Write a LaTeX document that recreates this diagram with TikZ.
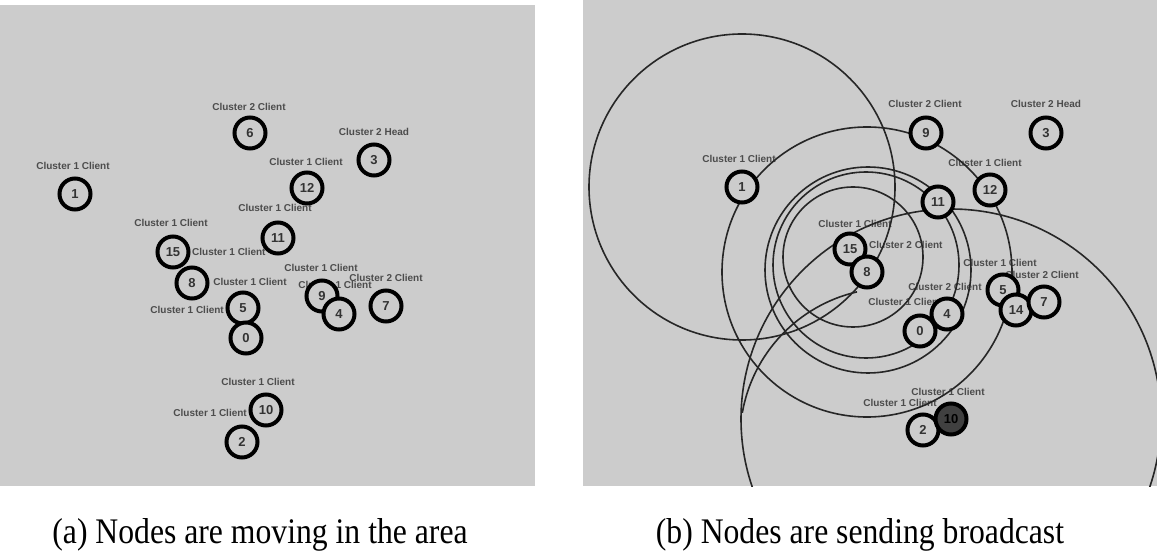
\documentclass[tikz,border=0pt]{standalone}
\usepackage{fontspec}
\setmainfont{Liberation Serif}
\setsansfont{Liberation Sans}
\begin{document}
\begin{tikzpicture}[x=1pt,y=1pt]
\tikzset{
 panel/.style={fill=black!20, draw=none},
 mnode/.style={circle, draw=black, line width=4pt, fill=black!20, minimum size=31pt, inner sep=0pt,
   font=\sffamily\bfseries\fontsize{13}{13}\selectfont, text=black!80},
 darknode/.style={mnode, fill=black!75, text=black},
 lbl/.style={font=\sffamily\bfseries\fontsize{10}{10}\selectfont, text=black!70, inner sep=0pt},
 bcast/.style={draw=black!85, line width=1.6pt},
 captext/.style={font=\fontsize{36}{40}\selectfont, anchor=base, inner sep=0pt}
}
\useasboundingbox (0,0) rectangle (1157,552);
% panels
\fill[panel] (0,66) rectangle (535,547);
\fill[panel] (583,66) rectangle (1157,552);

% ---------- left panel labels ----------
\node[lbl] (la1) at (249,445) {Cluster 2 Client};
\node[lbl] (la2) at (374,420) {Cluster 2 Head};
\node[lbl] (la3) at (306,390) {Cluster 1 Client};
\node[lbl] (la4) at (73,386) {Cluster 1 Client};
\node[lbl] (la5) at (275,344) {Cluster 1 Client};
\node[lbl] (la6) at (171,329) {Cluster 1 Client};
\node[lbl, anchor=west] (la7) at (192,300) {Cluster 1 Client};
\node[lbl] (la8) at (250,270) {Cluster 1 Client};
\node[lbl] (la9) at (321,284) {Cluster 1 Client};
\node[lbl] (la10) at (386,274) {Cluster 2 Client};
\node[lbl] (la11) at (335,267) {Cluster 1 Client};
\node[lbl, anchor=east] (la12) at (224,242) {Cluster 1 Client};
\node[lbl] (la13) at (258,170) {Cluster 1 Client};
\node[lbl, anchor=east] (la14) at (247,139) {Cluster 1 Client};

% ---------- left panel nodes ----------
\node[mnode] (a6) at (250,419) {6};
\node[mnode] (a3) at (374,392) {3};
\node[mnode] (a1) at (75,358) {1};
\node[mnode] (a12) at (307,364) {12};
\node[mnode] (a11) at (278,314) {11};
\node[mnode] (a15) at (173,300) {15};
\node[mnode] (a8) at (192,269) {8};
\node[mnode] (a5) at (243,244) {5};
\node[mnode] (a9) at (322,256) {9};
\node[mnode] (a4) at (339,238) {4};
\node[mnode] (a7) at (386,246) {7};
\node[mnode] (a0) at (246,214) {0};
\node[mnode] (a10) at (266,142) {10};
\node[mnode] (a2) at (242,110) {2};

% ---------- right panel ----------
\coordinate (pb1) at (742,365);
\coordinate (pb9) at (926,419);
\coordinate (pb3) at (1046,419);
\coordinate (pb12) at (990,362);
\coordinate (pb11) at (938,350);
\coordinate (pb15) at (850,303);
\coordinate (pb8) at (867,280);
\coordinate (pb4) at (947,238);
\coordinate (pb0) at (920,221);
\coordinate (pb5) at (1003,262);
\coordinate (pb14) at (1016,242);
\coordinate (pb7) at (1044,250);
\coordinate (pb2) at (923,122);
\coordinate (pb10) at (951,133);

\node[lbl] (lb1) at (925,448) {Cluster 2 Client};
\node[lbl] (lb2) at (1046,448) {Cluster 2 Head};
\node[lbl] (lb3) at (739,393) {Cluster 1 Client};
\node[lbl] (lb4) at (985,389) {Cluster 1 Client};
\node[lbl, anchor=west] (lb5) at (869,307) {Cluster 2 Client};
\node[lbl] (lb6) at (855,328) {Cluster 1 Client};
\node[lbl] (lb7) at (1000,289) {Cluster 1 Client};
\node[lbl] (lb8) at (1042,277) {Cluster 2 Client};
\node[lbl] (lb9) at (945,265) {Cluster 2 Client};
\node[lbl] (lb10) at (905,250) {Cluster 1 Client};
\node[lbl] (lb11) at (948,160) {Cluster 1 Client};
\node[lbl] (lb12) at (900,149) {Cluster 1 Client};

\begin{scope}
\clip (583,66) rectangle (1157,552);
\draw[bcast] (pb1) circle[radius=153pt];
\draw[bcast] (pb8) circle[radius=145pt];
\draw[bcast] (pb10) circle[radius=210pt];
\draw[bcast] (853,295) circle[radius=70pt];
\draw[bcast] (866,287) circle[radius=93pt];
\draw[bcast] (868,282) circle[radius=103pt];
\draw[bcast] (891,113) ++(103:151pt) arc[start angle=103, end angle=170, radius=151pt];
\end{scope}

\node[mnode] (b1) at (pb1) {1};
\node[mnode] (b9) at (pb9) {9};
\node[mnode] (b3) at (pb3) {3};
\node[mnode] (b12) at (pb12) {12};
\node[mnode] (b11) at (pb11) {11};
\node[mnode] (b15) at (pb15) {15};
\node[mnode] (b8) at (pb8) {8};
\node[mnode] (b0) at (pb0) {0};
\node[mnode] (b4) at (pb4) {4};
\node[mnode] (b5) at (pb5) {5};
\node[mnode] (b14) at (pb14) {14};
\node[mnode] (b7) at (pb7) {7};
\node[mnode] (b2) at (pb2) {2};
\node[darknode] (b10) at (pb10) {10};

% captions
\node[captext] (capa) at (260,9) {\scalebox{0.88}[1]{(a) Nodes are moving in the area}};
\node[captext] (capb) at (860,9) {\scalebox{0.88}[1]{(b) Nodes are sending broadcast}};
\end{tikzpicture}
\end{document}
